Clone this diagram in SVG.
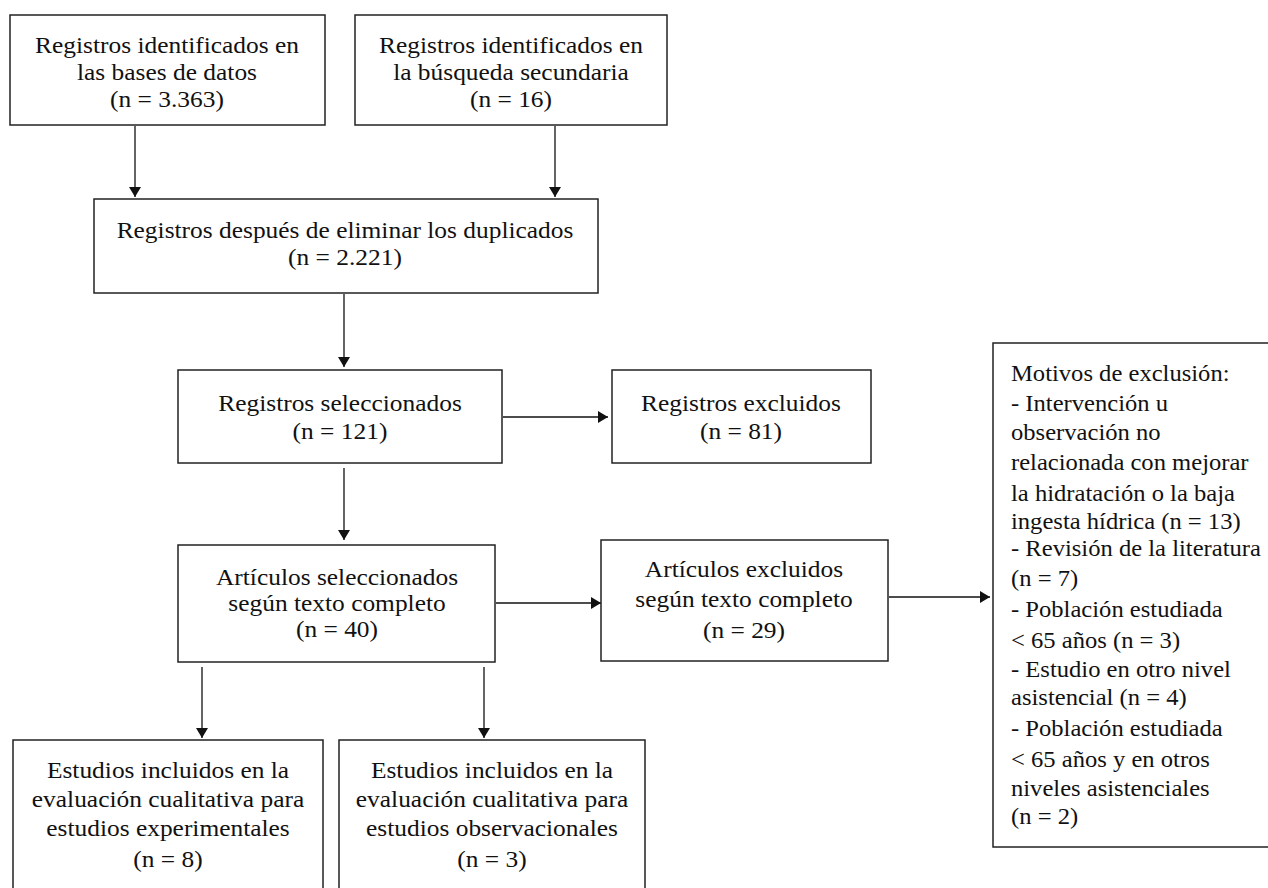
<svg xmlns="http://www.w3.org/2000/svg" width="1268" height="888" viewBox="0 0 1268 888">
<style>
rect{fill:#fff;stroke:#222;stroke-width:1.5}
text{font-family:"Liberation Serif","Times New Roman",serif;font-size:22.5px;fill:#111}
.c{text-anchor:middle}
.w text{font-size:23px}
.l{stroke:#111;stroke-width:1.3;fill:none}
</style>
<defs><marker id="a" markerWidth="10" markerHeight="12" refX="10" refY="6" orient="auto" markerUnits="userSpaceOnUse"><path d="M0,0 L10,6 L0,12 Z" fill="#111"/></marker></defs>
<rect x="0" y="0" width="1268" height="888" style="stroke:none"/>
<g id="connectors">
<path class="l" d="M135,126 V197" marker-end="url(#a)"/>
<path class="l" d="M555,126 V197" marker-end="url(#a)"/>
<path class="l" d="M344,294 V367" marker-end="url(#a)"/>
<path class="l" d="M503,417 H608" marker-end="url(#a)"/>
<path class="l" d="M344,468 V540" marker-end="url(#a)"/>
<path class="l" d="M496,603 H601" marker-end="url(#a)"/>
<path class="l" d="M889,597 H990" marker-end="url(#a)"/>
<path class="l" d="M202,667 V738" marker-end="url(#a)"/>
<path class="l" d="M484,667 V738" marker-end="url(#a)"/>
</g>
<g id="n1"><rect x="10" y="15" width="315" height="110"/>
<g transform="translate(167,0) scale(1.13,1)"><text class="c" x="0" y="53">Registros identificados en</text><text class="c" x="0" y="80">las bases de datos</text><text class="c" x="0" y="107">(n = 3.363)</text></g></g>
<g id="n2"><rect x="355" y="15" width="312" height="110"/>
<g transform="translate(511,0) scale(1.13,1)"><text class="c" x="0" y="53">Registros identificados en</text><text class="c" x="0" y="80">la búsqueda secundaria</text><text class="c" x="0" y="107">(n = 16)</text></g></g>
<g id="n3"><rect x="94" y="199" width="504" height="94"/>
<g transform="translate(345,0) scale(1.13,1)"><text class="c" x="0" y="238">Registros después de eliminar los duplicados</text><text class="c" x="0" y="265">(n = 2.221)</text></g></g>
<g id="n4"><rect x="178" y="370" width="324" height="93"/>
<g transform="translate(340,0) scale(1.13,1)"><text class="c" x="0" y="411">Registros seleccionados</text><text class="c" x="0" y="439">(n = 121)</text></g></g>
<g id="n5"><rect x="612" y="370" width="259" height="93"/>
<g transform="translate(741,0) scale(1.13,1)"><text class="c" x="0" y="411">Registros excluidos</text><text class="c" x="0" y="439">(n = 81)</text></g></g>
<g id="n6"><rect x="178" y="545" width="317" height="117"/>
<g transform="translate(337,0) scale(1.13,1)"><text class="c" x="0" y="585">Artículos seleccionados</text><text class="c" x="0" y="611">según texto completo</text><text class="c" x="0" y="637">(n = 40)</text></g></g>
<g id="n7"><rect x="601" y="540" width="287" height="121"/>
<g transform="translate(744,0) scale(1.13,1)"><text class="c" x="0" y="577">Artículos excluidos</text><text class="c" x="0" y="607">según texto completo</text><text class="c" x="0" y="638">(n = 29)</text></g></g>
<g id="n8"><rect x="993" y="343" width="280" height="504"/>
<g class="w" transform="translate(1011,0) scale(1.07,1)">
<text x="0" y="381">Motivos de exclusión:</text>
<text x="0" y="411">- Intervención u</text>
<text x="0" y="440">observación no</text>
<text x="0" y="470">relacionada con mejorar</text>
<text x="0" y="501">la hidratación o la baja</text>
<text x="0" y="529">ingesta hídrica (n = 13)</text>
<text x="0" y="556">- Revisión de la literatura</text>
<text x="0" y="586">(n = 7)</text>
<text x="0" y="617">- Población estudiada</text>
<text x="0" y="648">&lt; 65 años (n = 3)</text>
<text x="0" y="677">- Estudio en otro nivel</text>
<text x="0" y="705">asistencial (n = 4)</text>
<text x="0" y="736">- Población estudiada</text>
<text x="0" y="767">&lt; 65 años y en otros</text>
<text x="0" y="796">niveles asistenciales</text>
<text x="0" y="824">(n = 2)</text></g></g>
<g id="n9"><rect x="13" y="740" width="310" height="160"/>
<g transform="translate(168,0) scale(1.13,1)"><text class="c" x="0" y="778">Estudios incluidos en la</text><text class="c" x="0" y="807">evaluación cualitativa para</text><text class="c" x="0" y="836">estudios experimentales</text><text class="c" x="0" y="867">(n = 8)</text></g></g>
<g id="n10"><rect x="339" y="740" width="306" height="160"/>
<g transform="translate(492,0) scale(1.13,1)"><text class="c" x="0" y="778">Estudios incluidos en la</text><text class="c" x="0" y="807">evaluación cualitativa para</text><text class="c" x="0" y="836">estudios observacionales</text><text class="c" x="0" y="867">(n = 3)</text></g></g>
</svg>
